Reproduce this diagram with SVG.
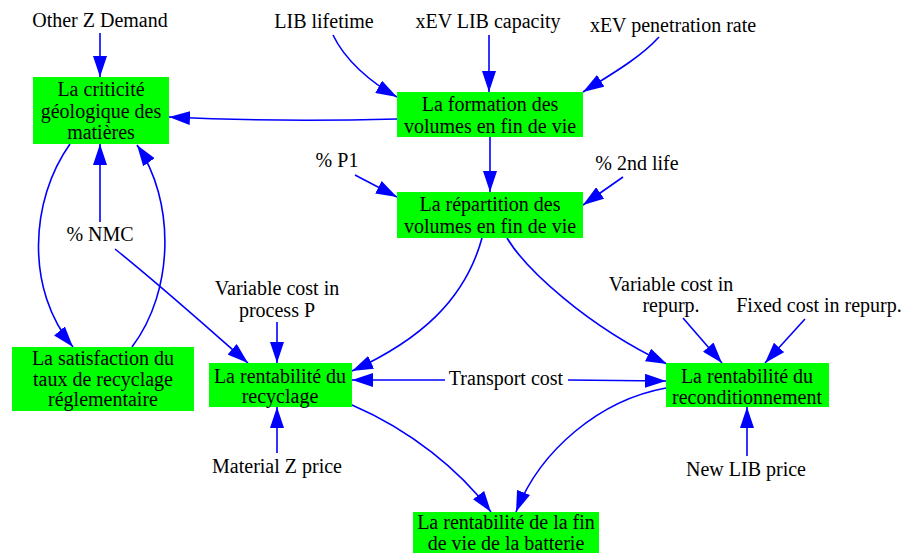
<svg xmlns="http://www.w3.org/2000/svg" width="903" height="553" viewBox="0 0 903 553">
<defs>
<style>
.n rect{fill:#00ff00;stroke:none}
.t{font-family:'Liberation Serif','DejaVu Serif',serif;font-size:20px;fill:#000;text-anchor:middle}
.e path{fill:none;stroke:#0000ff;stroke-width:1.6;marker-end:url(#ah)}
</style>
<marker id="ah" markerUnits="userSpaceOnUse" markerWidth="22" markerHeight="14" refX="21" refY="7" orient="auto" viewBox="0 0 22 14">
<path d="M0,0 L21,7 L0,14 z" fill="#0000ff"/>
</marker>
</defs>
<rect width="903" height="553" fill="#fff"/>
<g class="e" id="connectors">
<path d="M100,33 L100,77"/>
<path d="M333,35 C345,60 370,82 397,97"/>
<path d="M489,35 L489,92"/>
<path d="M659,37 C640,58 610,75 583,92"/>
<path d="M397,119 C320,121 250,121 169,117"/>
<path d="M490,137 L490,192"/>
<path d="M355,175 L397,197"/>
<path d="M623,177 L583,205"/>
<path d="M482,238 C465,300 420,340 352,371"/>
<path d="M507,238 C525,268 585,325 667,364"/>
<path d="M70,144 C30,200 25,290 73,347"/>
<path d="M132,347 C175,290 175,200 137,145"/>
<path d="M100,222 L100,144"/>
<path d="M115,249 C160,285 210,330 248,363"/>
<path d="M277,322 L277,363"/>
<path d="M445,380 L352,380"/>
<path d="M568,380 L666,381"/>
<path d="M277,453 L277,407"/>
<path d="M747,456 L747,407"/>
<path d="M352,405 C410,430 460,470 491,512"/>
<path d="M666,388 C600,400 540,450 516,512"/>
<path d="M683,318 L722,363"/>
<path d="M805,319 L765,363"/>
</g>
<g class="t" font-family="Liberation Serif, serif" font-size="20">
<g id="other_z_demand"><text x="100" y="27">Other Z Demand</text></g>
<g id="lib_lifetime"><text x="324" y="28">LIB lifetime</text></g>
<g id="xev_lib_capacity"><text x="488" y="28">xEV LIB capacity</text></g>
<g id="xev_penetration_rate"><text x="673" y="32">xEV penetration rate</text></g>
<g id="pct_p1"><text x="337" y="167">% P1</text></g>
<g id="pct_2nd_life"><text x="637" y="170">% 2nd life</text></g>
<g id="pct_nmc"><text x="100" y="241">% NMC</text></g>
<g id="var_cost_p"><text x="277" y="295">Variable cost in</text><text x="277" y="317">process P</text></g>
<g id="var_cost_repurp"><text x="671" y="291">Variable cost in</text><text x="671" y="312">repurp.</text></g>
<g id="fixed_cost_repurp"><text x="819" y="312">Fixed cost in repurp.</text></g>
<g id="transport_cost"><text x="506" y="385">Transport cost</text></g>
<g id="material_z_price"><text x="277" y="473">Material Z price</text></g>
<g id="new_lib_price"><text x="746" y="476">New LIB price</text></g>
<g class="n" id="criticite"><rect x="33" y="77" width="136" height="67"/><text x="101" y="96">La criticité</text><text x="101" y="118">géologique des</text><text x="101" y="139">matières</text></g>
<g class="n" id="formation"><rect x="397" y="92" width="186" height="45"/><text x="490" y="111">La formation des</text><text x="490" y="133">volumes en fin de vie</text></g>
<g class="n" id="repartition"><rect x="397" y="192" width="186" height="46"/><text x="490" y="211">La répartition des</text><text x="490" y="233">volumes en fin de vie</text></g>
<g class="n" id="satisfaction"><rect x="12" y="347" width="182" height="64"/><text x="103" y="365">La satisfaction du</text><text x="103" y="386">taux de recyclage</text><text x="103" y="406">réglementaire</text></g>
<g class="n" id="rentabilite_recyclage"><rect x="209" y="363" width="143" height="44"/><text x="280" y="383">La rentabilité du</text><text x="280" y="403">recyclage</text></g>
<g class="n" id="rentabilite_recond"><rect x="666" y="363" width="163" height="44"/><text x="747" y="383">La rentabilité du</text><text x="747" y="404">reconditionnement</text></g>
<g class="n" id="rentabilite_fin"><rect x="413" y="512" width="186" height="50"/><text x="506" y="529">La rentabilité de la fin</text><text x="506" y="550">de vie de la batterie</text></g>
</g>
</svg>
